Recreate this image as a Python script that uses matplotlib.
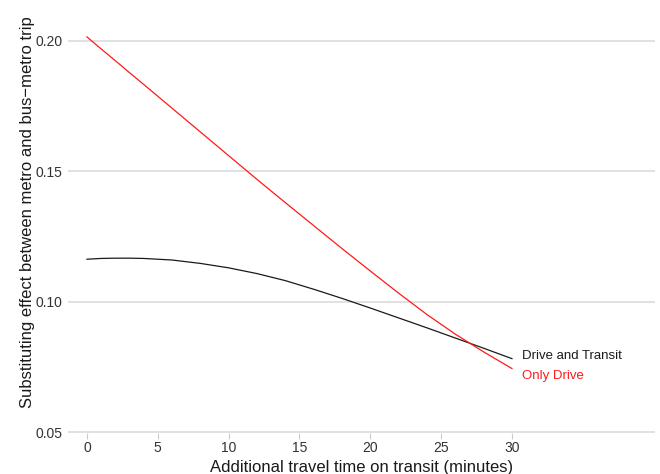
import matplotlib
matplotlib.use("Agg")
import matplotlib.pyplot as plt

# 数据
minutes = [0, 1, 2, 3, 4, 6, 8, 10, 12, 14, 16, 18, 20, 22, 24, 26, 28, 30]
drive_transit = [0.1163, 0.1166, 0.1167, 0.1167, 0.1166, 0.1160, 0.1147, 0.1130, 0.1108,
                 0.1081, 0.1048, 0.1013, 0.0976, 0.0938, 0.0900, 0.0861, 0.0822, 0.0782]
only_drive = [0.2015, 0.1969, 0.1924, 0.1878, 0.1833, 0.1742, 0.1651, 0.1560, 0.1469,
              0.1380, 0.1292, 0.1204, 0.1118, 0.1033, 0.0951, 0.0876, 0.0808, 0.0744]
x_ticks = [0, 5, 10, 15, 20, 25, 30]
y_ticks = [0.05, 0.10, 0.15, 0.20]

plt.rcParams["font.family"] = ["Liberation Sans", "DejaVu Sans"]

fig = plt.figure(figsize=(6.6, 4.74), dpi=100)
ax = fig.add_axes([68 / 660, 41 / 474, 587 / 660, 400 / 474])

ax.plot(minutes, drive_transit, color="#1a1a1a", lw=0.9)
ax.plot(minutes, only_drive, color="#ff1a1a", lw=0.9)

ax.text(30.7, 0.0791, "Drive and Transit", color="#1a1a1a", fontsize=9.5, va="center")
ax.text(30.7, 0.0714, "Only Drive", color="#ff1a1a", fontsize=9.5, va="center")

ax.set_xlim(-1.34, 40.1)
ax.set_ylim(0.0497, 0.203)
ax.set_xticks(x_ticks)
ax.set_yticks(y_ticks)
ax.set_yticklabels(["0.05", "0.10", "0.15", "0.20"])

ax.grid(axis="y", color="#d9d9d9", lw=1.1)
ax.set_axisbelow(True)
for s in ax.spines.values():
    s.set_visible(False)

ax.tick_params(axis="x", length=4, width=0.8, color="#cccccc", labelsize=10,
               labelcolor="#333333", pad=2)
ax.tick_params(axis="y", length=0, labelsize=10, labelcolor="#333333", pad=4)

ax.set_xlabel("Additional travel time on transit (minutes)", fontsize=12, color="#1a1a1a")
ax.set_ylabel("Substituting effect between metro and bus\u2212metro trip", fontsize=12,
              color="#1a1a1a")
ax.xaxis.set_label_coords(0.5, -0.067)
ax.yaxis.set_label_coords(-0.056, 0.552)

fig.savefig("out.png", dpi=100)
